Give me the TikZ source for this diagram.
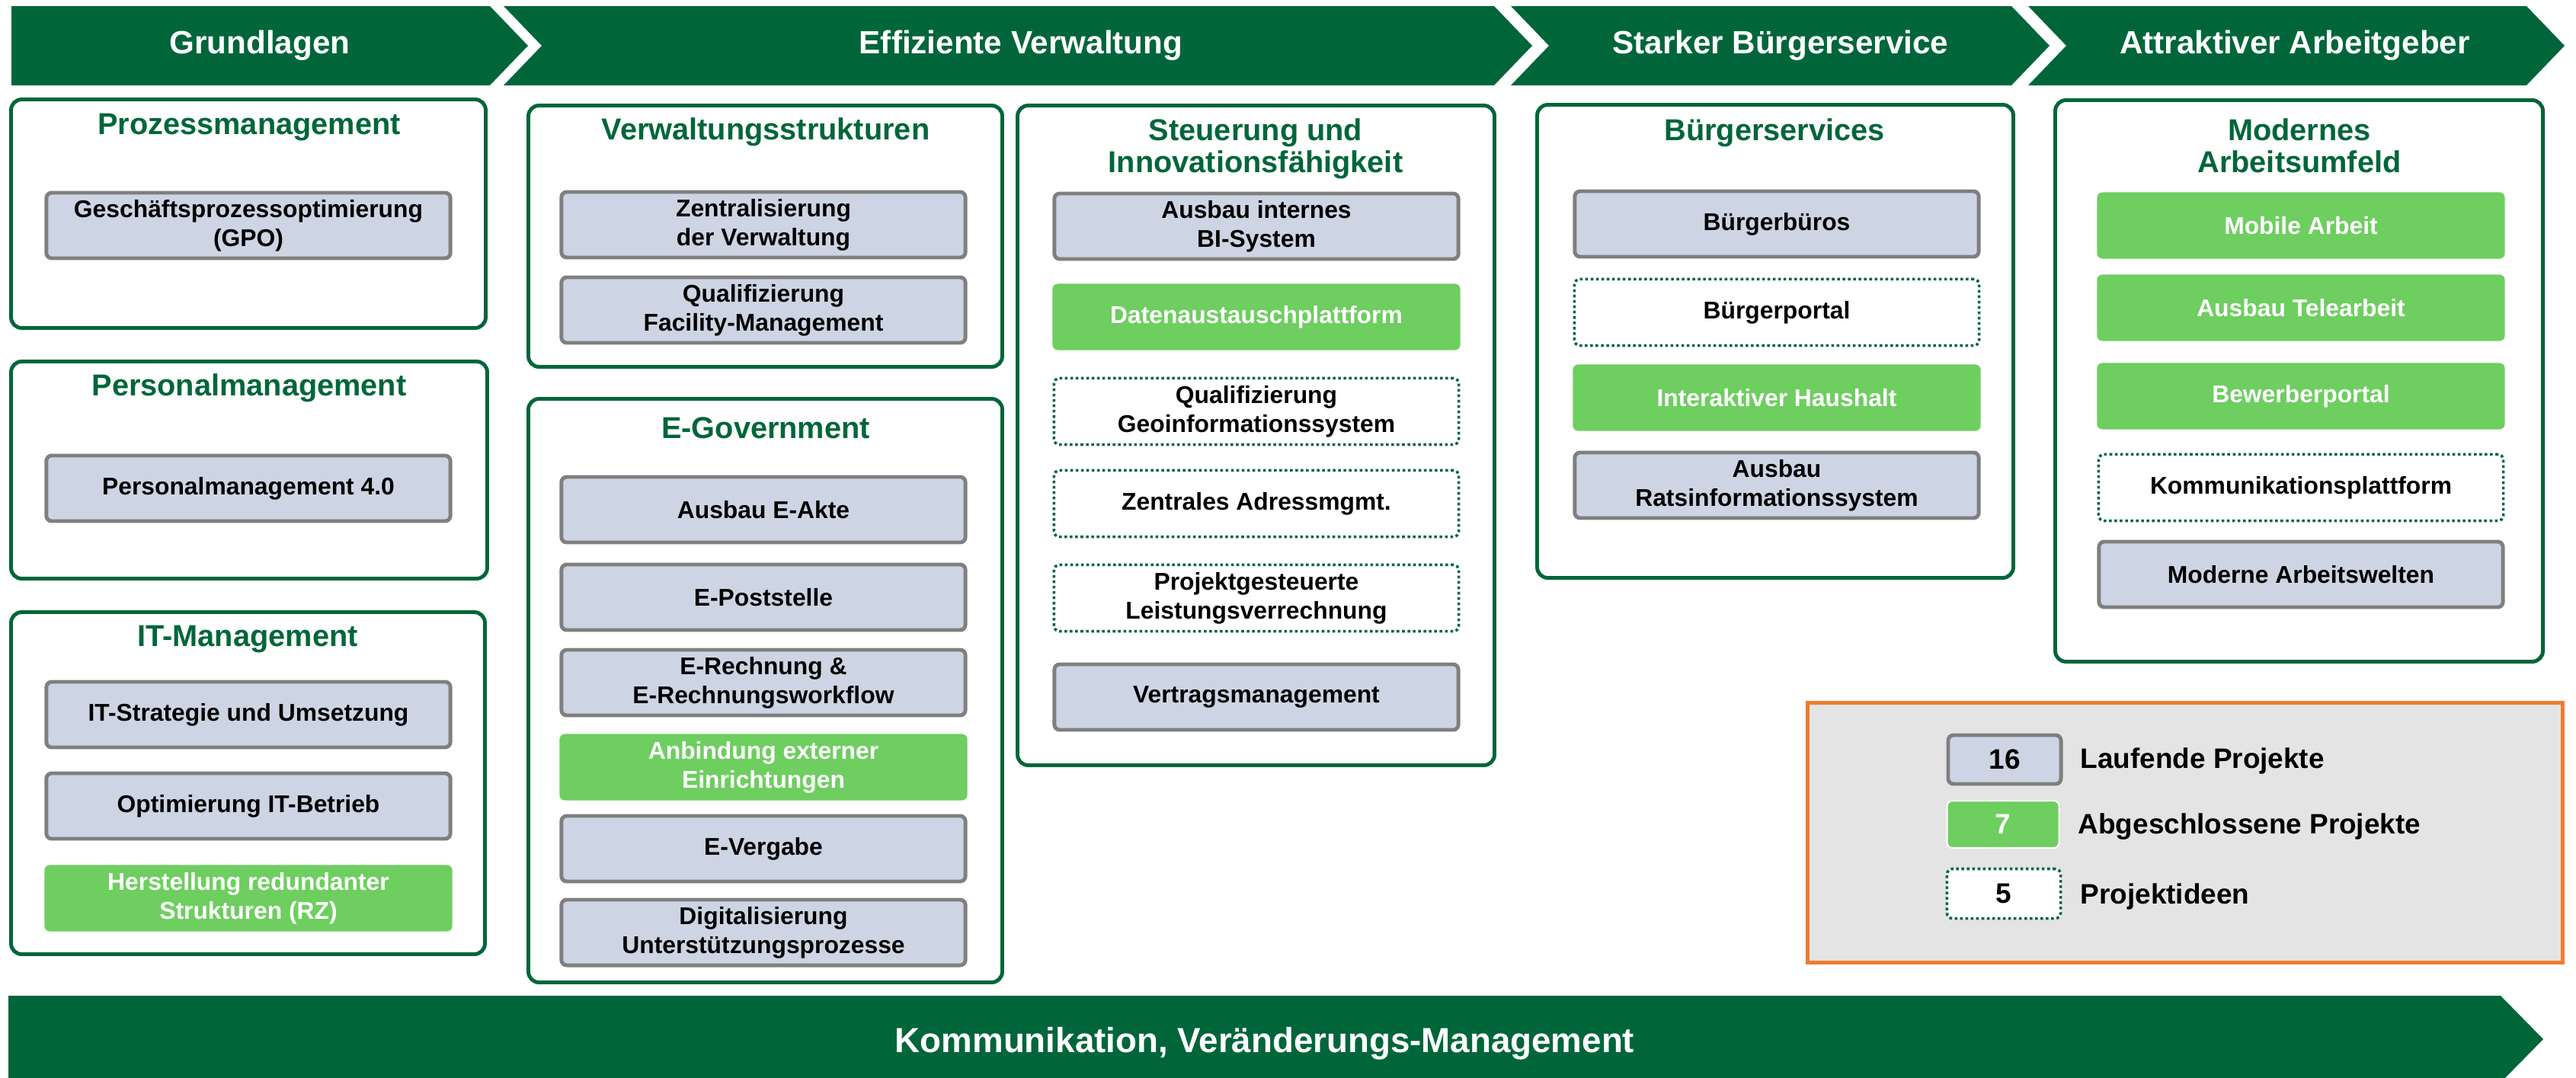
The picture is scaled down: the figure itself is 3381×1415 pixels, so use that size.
\documentclass[tikz,border=0pt]{standalone}
\usepackage{fontspec}
\setmainfont{Liberation Sans}

\definecolor{dunkelgruen}{RGB}{0,102,58}
\definecolor{hellgruen}{RGB}{110,206,96}
\definecolor{blaugrau}{RGB}{205,213,228}
\definecolor{kantengrau}{RGB}{127,127,127}
\definecolor{legendengrau}{RGB}{228,228,228}
\definecolor{orangerot}{RGB}{237,125,49}

\tikzset{
    kopf/.style = {text = white, font = \fontsize{12}{14}\selectfont\bfseries},
    rahmen/.style = {draw = dunkelgruen, line width = 1.4pt, rounded corners = 4pt},
    titel/.style = {text = dunkelgruen, align = center, inner sep = 0pt, font = \fontsize{11.3}{12}\selectfont\bfseries},
    kasten/.style = {minimum width = 5.3cm, minimum height = 0.86cm, inner sep = 0pt, align = center, rounded corners = 2pt, font = \fontsize{9.05}{10.8}\selectfont\bfseries},
    laufend/.style = {kasten, fill = blaugrau, draw = kantengrau, line width = 1.4pt},
    fertig/.style = {kasten, fill = hellgruen, text = white, minimum width = 5.35cm, minimum height = 0.87cm},
    idee/.style = {kasten, fill = white, draw = dunkelgruen, line width = 1pt, dash pattern = on 1pt off 1pt, minimum width = 5.31cm, minimum height = 0.87cm},
    legtext/.style = {anchor = west, inner sep = 0pt, font = \fontsize{10.5}{12}\selectfont\bfseries}
}

\begin{document}
\begin{tikzpicture}[x = 0.01cm, y = -0.01cm]
        \useasboundingbox ( 0, 0 ) rectangle ( 3381, 1415 );

        % Spaltenmitten
        \def \SpA { 326 }
        \def \SpB { 1002 }
        \def \SpC { 1649 }
        \def \SpD { 2332 }
        \def \SpE { 3020 }

        % Kopfzeile
        \fill [dunkelgruen] ( 15, 8 ) -- ( 643, 8 ) -- ( 693, 60 ) -- ( 643, 112 ) -- ( 15, 112 ) -- cycle;
        \fill [dunkelgruen] ( 661, 8 ) -- ( 1961, 8 ) -- ( 2011, 60 ) -- ( 1961, 112 ) -- ( 661, 112 ) -- ( 711, 60 ) -- cycle;
        \fill [dunkelgruen] ( 1983, 8 ) -- ( 2640, 8 ) -- ( 2690, 60 ) -- ( 2640, 112 ) -- ( 1983, 112 ) -- ( 2033, 60 ) -- cycle;
        \fill [dunkelgruen] ( 2662, 8 ) -- ( 3316, 8 ) -- ( 3366, 60 ) -- ( 3316, 112 ) -- ( 2662, 112 ) -- ( 2712, 60 ) -- cycle;
        \node [kopf] (k-grund) at ( 341, 60 ) {Grundlagen};
        \node [kopf] (k-verw) at ( 1340, 60 ) {Effiziente Verwaltung};
        \node [kopf] (k-buerger) at ( 2337, 60 ) {Starker Bürgerservice};
        \node [kopf] (k-arbeit) at ( 3012, 60 ) {Attraktiver Arbeitgeber};

        % Rahmen
        \draw [rahmen] ( 14.5, 130.5 ) rectangle ( 637.5, 430.5 );
        \draw [rahmen] ( 14.5, 474.5 ) rectangle ( 639.5, 759.5 );
        \draw [rahmen] ( 14.5, 803.5 ) rectangle ( 636.5, 1252.5 );
        \draw [rahmen] ( 693.5, 138.5 ) rectangle ( 1315.5, 481.5 );
        \draw [rahmen] ( 693.5, 523.5 ) rectangle ( 1315.5, 1289.5 );
        \draw [rahmen] ( 1335.5, 138.5 ) rectangle ( 1961.5, 1004.5 );
        \draw [rahmen] ( 2017.5, 137.5 ) rectangle ( 2642.5, 758.5 );
        \draw [rahmen] ( 2697.5, 131.5 ) rectangle ( 3337.5, 868.5 );

        % Titel
        \node [titel] (t-prozess) at ( 327, 167 ) {Prozessmanagement};
        \node [titel] (t-personal) at ( 327, 509 ) {Personalmanagement};
        \node [titel] (t-it) at ( 325, 839 ) {IT-Management};
        \node [titel] (t-verw) at ( 1005, 173 ) {Verwaltungsstrukturen};
        \node [titel] (t-egov) at ( 1005, 562 ) {E-Government};
        \node [titel] (t-steuer) at ( 1648, 195 ) {Steuerung und\\Innovationsfähigkeit};
        \node [titel] (t-buerger) at ( 2329, 174 ) {Bürgerservices};
        \node [titel] (t-arbeit) at ( 3018, 191 ) {Modernes\\Arbeitsumfeld};

        % Grundlagen
        \node [laufend] (gpo) at ( \SpA, 296 ) {Geschäftsprozessoptimierung\\(GPO)};
        \node [laufend] (pm) at ( \SpA, 641 ) {Personalmanagement 4.0};
        \node [laufend] (itstrat) at ( \SpA, 938 ) {IT-Strategie und Umsetzung};
        \node [laufend] (itbetrieb) at ( \SpA, 1058 ) {Optimierung IT-Betrieb};
        \node [fertig] (rz) at ( \SpA, 1179 ) {Herstellung redundanter\\Strukturen (RZ)};

        % Verwaltungsstrukturen, E-Government
        \node [laufend] (zentral) at ( \SpB, 295 ) {Zentralisierung\\der Verwaltung};
        \node [laufend] (fm) at ( \SpB, 407 ) {Qualifizierung\\Facility-Management};
        \node [laufend] (eakte) at ( \SpB, 669 ) {Ausbau E-Akte};
        \node [laufend] (epost) at ( \SpB, 784 ) {E-Poststelle};
        \node [laufend] (erech) at ( \SpB, 896 ) {E-Rechnung \&\\E-Rechnungsworkflow};
        \node [fertig] (extern) at ( \SpB, 1007 ) {Anbindung externer\\Einrichtungen};
        \node [laufend] (evergabe) at ( \SpB, 1114 ) {E-Vergabe};
        \node [laufend] (digital) at ( \SpB, 1224 ) {Digitalisierung\\Unterstützungsprozesse};

        % Steuerung
        \node [laufend] (bi) at ( \SpC, 297 ) {Ausbau internes\\BI-System};
        \node [fertig] (daten) at ( \SpC, 416 ) {Datenaustauschplattform};
        \node [idee] (geo) at ( \SpC, 540 ) {Qualifizierung\\Geoinformationssystem};
        \node [idee] (adress) at ( \SpC, 661 ) {Zentrales Adressmgmt.};
        \node [idee] (leistung) at ( \SpC, 785 ) {Projektgesteuerte\\Leistungsverrechnung};
        \node [laufend] (vertrag) at ( \SpC, 915 ) {Vertragsmanagement};

        % Bürgerservices
        \node [laufend] (bbueros) at ( \SpD, 294 ) {Bürgerbüros};
        \node [idee] (bportal) at ( \SpD, 410 ) {Bürgerportal};
        \node [fertig] (haushalt) at ( \SpD, 522 ) {Interaktiver Haushalt};
        \node [laufend] (rats) at ( \SpD, 637 ) {Ausbau\\Ratsinformationssystem};

        % Arbeitsumfeld
        \node [fertig] (mobil) at ( \SpE, 296 ) {Mobile Arbeit};
        \node [fertig] (tele) at ( \SpE, 404 ) {Ausbau Telearbeit};
        \node [fertig] (bewerber) at ( \SpE, 520 ) {Bewerberportal};
        \node [idee] (kplattform) at ( \SpE, 640 ) {Kommunikationsplattform};
        \node [laufend] (welten) at ( \SpE, 754 ) {Moderne Arbeitswelten};

        % Legende
        \draw [fill = legendengrau, draw = orangerot, line width = 1.4pt] ( 2372.5, 922.5 ) rectangle ( 3363.5, 1263.5 );
        \node [laufend, minimum width = 1.48cm, minimum height = 0.64cm, font = \fontsize{10.5}{12}\selectfont\bfseries] (l-lauf) at ( 2631, 997 ) {16};
        \node [fertig, draw = white, line width = 0.6pt, minimum width = 1.47cm, minimum height = 0.62cm, font = \fontsize{10.5}{12}\selectfont\bfseries] (l-fertig) at ( 2629, 1082 ) {7};
        \node [idee, minimum width = 1.49cm, minimum height = 0.65cm, font = \fontsize{10.5}{12}\selectfont\bfseries] (l-idee) at ( 2630, 1173 ) {5};
        \node [legtext] (lt-lauf) at ( 2730, 999 ) {Laufende Projekte};
        \node [legtext] (lt-fertig) at ( 2727, 1085 ) {Abgeschlossene Projekte};
        \node [legtext] (lt-idee) at ( 2730, 1177 ) {Projektideen};

        % Fusszeile
        \fill [dunkelgruen] ( 11, 1307 ) -- ( 3282, 1307 ) -- ( 3338, 1364 ) -- ( 3282, 1421 ) -- ( 11, 1421 ) -- cycle;
        \node [kopf, font = \fontsize{13}{15}\selectfont\bfseries] (k-kommunikation) at ( 1660, 1370 ) {Kommunikation, Veränderungs-Management};
\end{tikzpicture}
\end{document}
